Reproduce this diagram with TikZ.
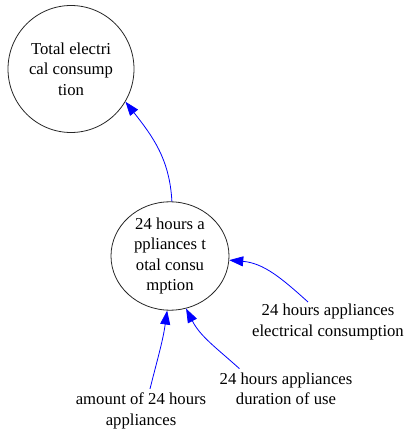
\documentclass[tikz,border=0pt]{standalone}
\usepackage{fontspec}
\setmainfont{Liberation Serif}
\usetikzlibrary{arrows.meta,shapes.geometric}

\begin{document}
\begin{tikzpicture}[
    x=1pt, y=1pt,
    var/.style={draw=black!85, line width=0.8pt, ellipse, inner sep=0pt, align=center, font=\fontsize{16.7}{20.5}\selectfont},
    aux/.style={inner sep=0pt, align=center, font=\fontsize{16.7}{20.5}\selectfont},
    link/.style={draw=blue, line width=0.8pt, -{Triangle[length=14pt,width=10pt]}}
  ]
  \useasboundingbox (0,0) rectangle (405,432);

  % levels
  \node[var, minimum width=126pt, minimum height=127pt] (total) at (71,363)
    {Total electri\\cal consump\\tion};
  \node[var, minimum width=118pt, minimum height=106pt] (tot24) at (170,176)
    {24 hours a\\ppliances t\\otal consu\\mption};

  % inputs
  \node[aux] (elec) at (328,110) {24 hours appliances\\electrical consumption};
  \node[aux] (dur) at (286,43) {24 hours appliances\\duration of use};
  \node[aux] (amount) at (141,21) {amount of 24 hours\\appliances};

  % links
  \draw[link] (tot24.88) to[out=93, in=-52] (total.-31);
  \draw[link] ([xshift=-20pt,yshift=2pt]elec.north) to[out=138, in=-5] (tot24.-4);
  \draw[link] ([xshift=20pt,yshift=4pt]dur.north west) to[out=138, in=-63] (tot24.-73);
  \draw[link] ([xshift=9pt,yshift=4pt]amount.north) to[out=76, in=-98] (tot24.-93);
\end{tikzpicture}
\end{document}
